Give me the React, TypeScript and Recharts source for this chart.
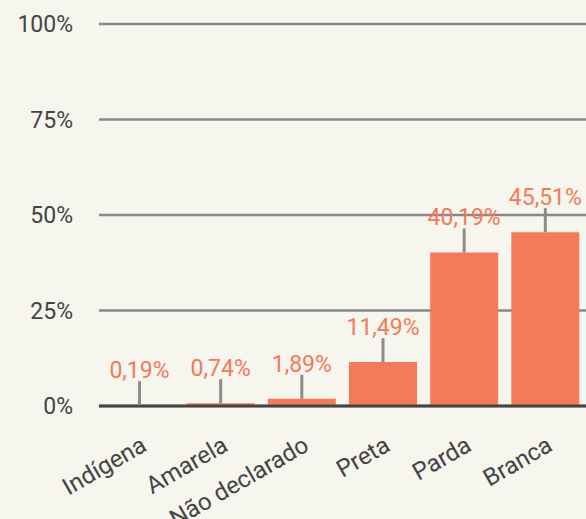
import React from 'react';
import { BarChart, Bar, XAxis, YAxis, CartesianGrid, ReferenceLine, LabelList } from 'recharts';

const categories = ['Indígena', 'Amarela', 'Não declarado', 'Preta', 'Parda', 'Branca'];
const shares = [0.19, 0.74, 1.89, 11.49, 40.19, 45.51];
const yTicks = [0, 25, 50, 75, 100];

const data = categories.map((name, i) => ({ name, share: shares[i] }));

const FONT = 'Roboto, "Noto Sans", sans-serif';
const CORAL = '#f57a57';

const fmt = (v: number) => v.toFixed(2).replace('.', ',') + '%';

// grey leader line from the bar top, value sitting on top of it
function ValueLabel(props: any) {
  const { x, y, width, value } = props;
  const cx = x + width / 2;
  return (
    <g>
      <line x1={cx} x2={cx} y1={y} y2={y - 24} stroke="#8c8c8c" strokeWidth={3} />
      <text x={cx} y={y - 27} textAnchor="middle" fill={CORAL} fontSize={23} fontFamily={FONT}>
        {fmt(value)}
      </text>
    </g>
  );
}

export default function App() {
  return (
    <div style={{ position: 'absolute', left: 0, top: 0, width: 586, height: 519, background: '#f6f5ee' }}>
      <BarChart
        width={586}
        height={519}
        data={data}
        margin={{ top: 24, right: 0, bottom: 0, left: 0 }}
        barCategoryGap="8%"
      >
        <CartesianGrid vertical={false} stroke="#888888" strokeWidth={2.5} />
        <XAxis
          dataKey="name"
          height={113}
          axisLine={false}
          tickLine={false}
          tickSize={0}
          tickMargin={29}
          interval={0}
          angle={-30}
          textAnchor="end"
          tick={{ fill: '#444444', fontSize: 24, fontFamily: FONT }}
        />
        <YAxis
          width={99}
          domain={[0, 100]}
          ticks={yTicks}
          axisLine={false}
          tickLine={false}
          tickSize={0}
          tickMargin={26}
          tickFormatter={(v: number) => `${v}%`}
          tick={{ fill: '#444444', fontSize: 23, fontFamily: FONT }}
        />
        <Bar dataKey="share" fill={CORAL} isAnimationActive={false}>
          <LabelList dataKey="share" content={ValueLabel} />
        </Bar>
        <ReferenceLine y={0} stroke="#444444" strokeWidth={3} />
      </BarChart>
    </div>
  );
}
